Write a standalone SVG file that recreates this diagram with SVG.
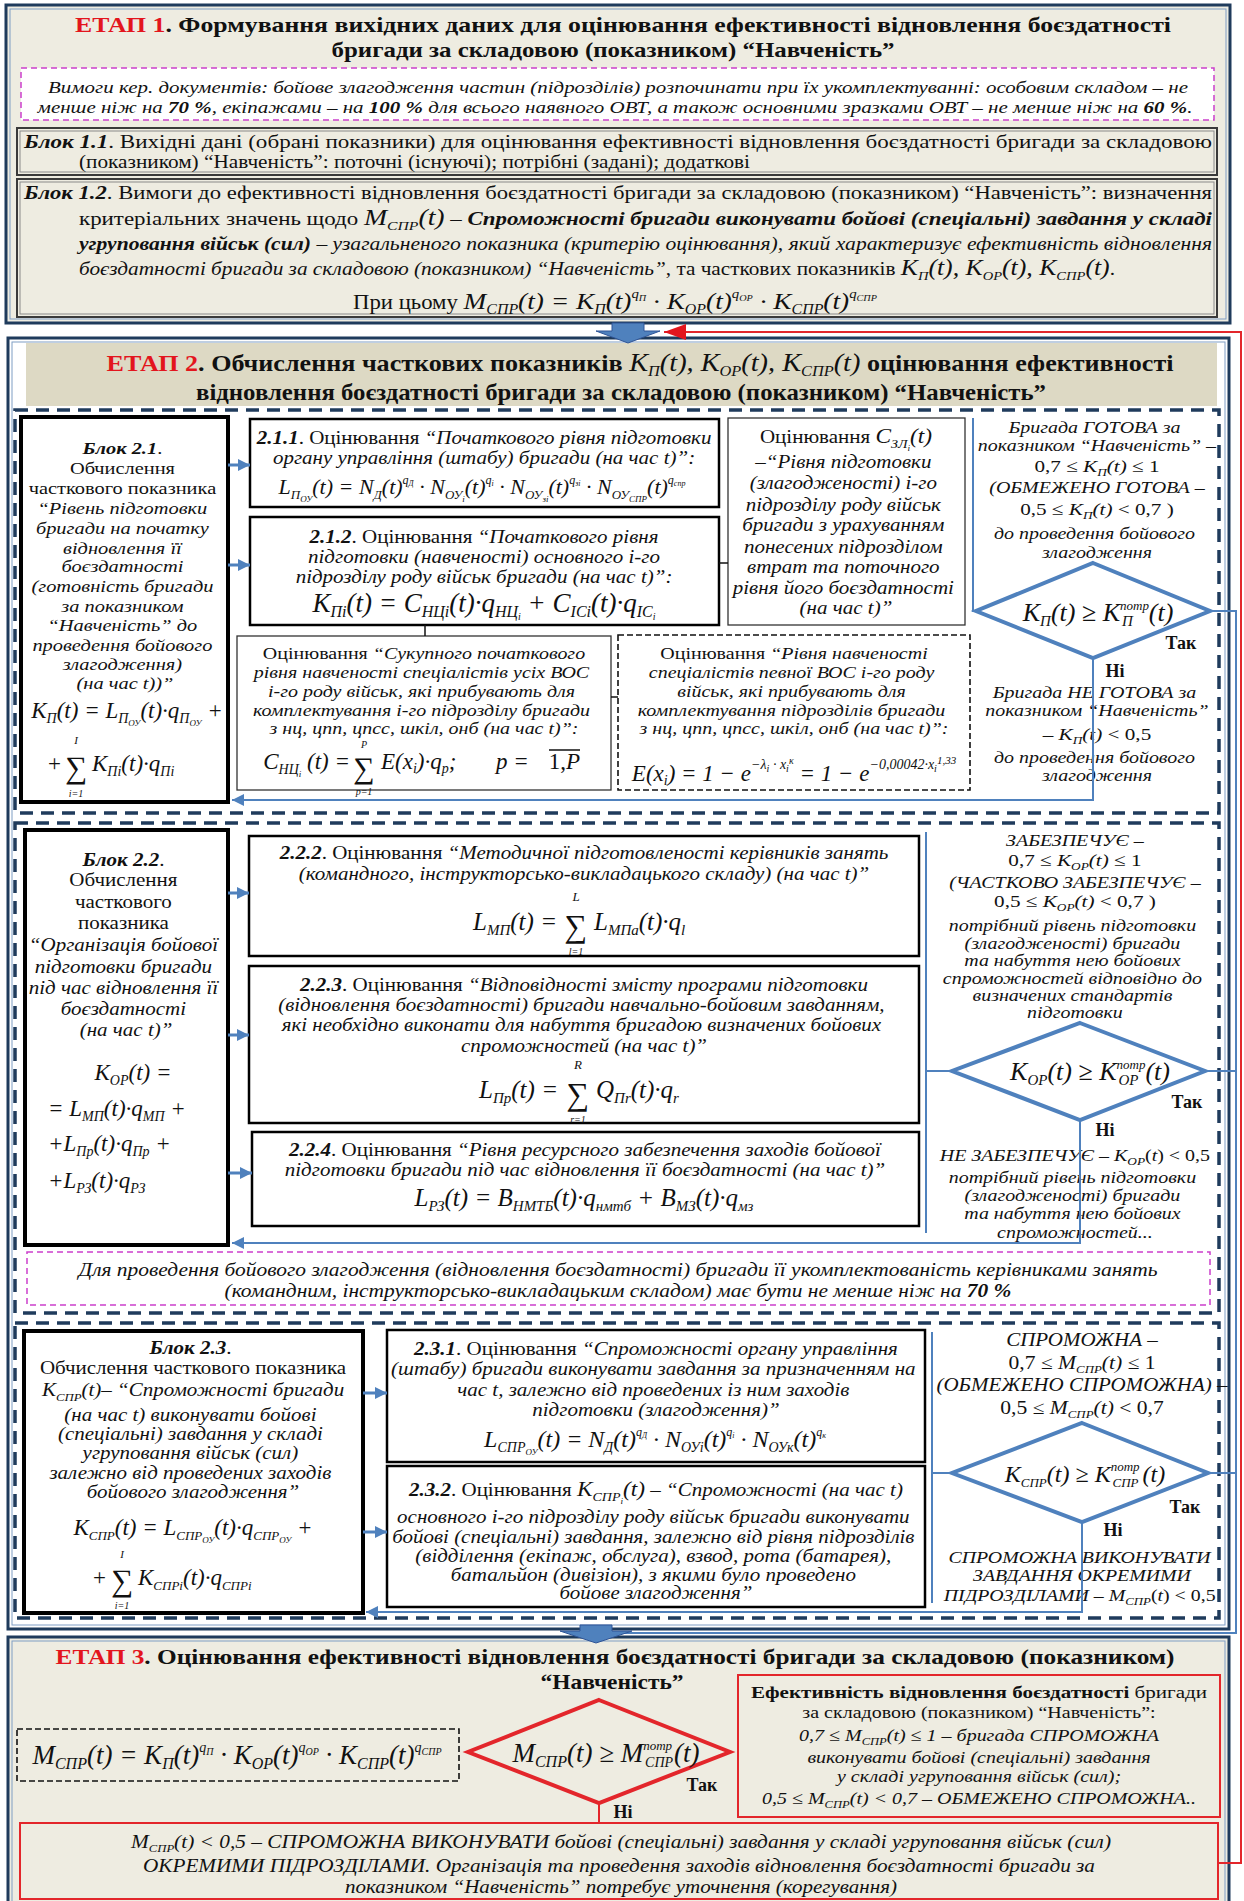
<svg xmlns="http://www.w3.org/2000/svg" width="1244" height="1901" viewBox="0 0 1244 1901">
<style>
text{font-family:"Liberation Serif","Times New Roman",serif;fill:#111}
.i{font-style:italic}
.b{font-weight:bold}
.n{font-weight:normal}
.red{fill:#E3151D}
.m{text-anchor:middle}
.e{text-anchor:end}
.frame{fill:#EEECE1;stroke:#1F3B5C;stroke-width:3}
.frame2{fill:#FFFFFF;stroke:#1F3B5C;stroke-width:3}
.inl{fill:none;stroke:#7F9DC4;stroke-width:1}
.grp{fill:none;stroke:#1F3B5C;stroke-width:3.5;stroke-dasharray:13 8}
.blk{fill:#fff;stroke:#000;stroke-width:4}
.box{fill:#fff;stroke:#000;stroke-width:2.5}
.thin{fill:#fff;stroke:#333;stroke-width:1.3}
.dsh{fill:#fff;stroke:#111;stroke-width:1.6;stroke-dasharray:6 3}
.dsh3{fill:none;stroke:#111;stroke-width:1.6;stroke-dasharray:6 3}
.mag{fill:#fff;stroke:#CC3FCC;stroke-width:1.5;stroke-dasharray:6 4}
.b1{fill:#EEECE1;stroke:#3A3A3A;stroke-width:2}
.b1in{fill:none;stroke:#8A8A8A;stroke-width:1}
.dia{fill:#fff;stroke:#4F81BD;stroke-width:4}
.rdia{fill:#EEECE1;stroke:#E3262B;stroke-width:4}
.ln{fill:none;stroke:#4F81BD;stroke-width:2}
.ar{fill:none;stroke:#4F81BD;stroke-width:3}
.bk{fill:none;stroke:#111;stroke-width:1.5}
.rl{fill:none;stroke:#E3262B;stroke-width:2}
.rbox{fill:#EEECE1;stroke:#E3262B;stroke-width:2}
.barrow{fill:#4F81BD;stroke:#2F5597;stroke-width:1}
</style>
<defs>
<marker id="ah" viewBox="0 0 10 10" refX="10" refY="5" markerWidth="12" markerHeight="12" markerUnits="userSpaceOnUse" orient="auto"><path d="M0,0 L10,5 L0,10 Z" fill="#4F81BD"/></marker>
<marker id="rh" viewBox="0 0 10 10" refX="10" refY="5" markerWidth="22" markerHeight="16" markerUnits="userSpaceOnUse" orient="auto" preserveAspectRatio="none"><path d="M0,0 L10,5 L0,10 Z" fill="#E3151D"/></marker>
</defs>

<g id="etap1">
<rect class="frame" x="6" y="5" width="1224" height="318"/>
<rect class="inl" x="10" y="9" width="1216" height="310"/>
<text class="b m" x="623" y="32" font-size="22" textLength="1096" lengthAdjust="spacingAndGlyphs"><tspan class="red">ЕТАП 1</tspan>. Формування вихідних даних для оцінювання ефективності відновлення боєздатності</text>
<text class="b m" x="613" y="57" font-size="22" textLength="563" lengthAdjust="spacingAndGlyphs">бригади за складовою (показником) “Навченість”</text>
</g>

<g id="note1">
<rect class="mag" x="21" y="68" width="1193" height="52"/>
<text class="i m" x="618" y="93" font-size="17.5" textLength="1140" lengthAdjust="spacingAndGlyphs">Вимоги кер. документів: бойове злагодження частин (підрозділів) розпочинати при їх укомплектуванні: особовим складом – не</text>
<text class="i m" x="615" y="113" font-size="17.5" textLength="1155" lengthAdjust="spacingAndGlyphs">менше ніж на <tspan class="b">70 %</tspan>, екіпажами – на <tspan class="b">100 %</tspan> для всього наявного ОВТ, а також основними зразками ОВТ – не менше ніж на <tspan class="b">60 %</tspan>.</text>
</g>

<g id="block11">
<rect class="b1" x="17" y="128" width="1200" height="47"/>
<rect class="b1in" x="20" y="131" width="1194" height="41"/>
<text x="24" y="148" font-size="18" textLength="1188" lengthAdjust="spacingAndGlyphs"><tspan class="b i">Блок 1.1</tspan>. Вихідні дані (обрані показники) для оцінювання ефективності відновлення боєздатності бригади за складовою</text>
<text x="79" y="168" font-size="18" textLength="671" lengthAdjust="spacingAndGlyphs">(показником) “Навченість”: поточні (існуючі); потрібні (задані); додаткові</text>
</g>

<g id="block12">
<rect class="b1" x="17" y="179" width="1200" height="138"/>
<rect class="b1in" x="20" y="182" width="1194" height="132"/>
<text x="24" y="199" font-size="19" textLength="1188" lengthAdjust="spacingAndGlyphs"><tspan class="b i">Блок 1.2</tspan>. Вимоги до ефективності відновлення боєздатності бригади за складовою (показником) “Навченість”: визначення</text>
<text x="79" y="225" font-size="19" textLength="1133" lengthAdjust="spacingAndGlyphs">критеріальних значень щодо <tspan class="i" font-size="23">M<tspan font-size="13" dy="5">СПР</tspan><tspan dy="-5">(t)</tspan></tspan> – <tspan class="b i">Спроможності бригади виконувати бойові (спеціальні) завдання у складі</tspan></text>
<text x="79" y="250" font-size="19" textLength="1133" lengthAdjust="spacingAndGlyphs"><tspan class="b i">угруповання військ (сил)</tspan><tspan class="i"> – узагальненого показника (критерію оцінювання), який характеризує ефективність відновлення</tspan></text>
<text x="79" y="275" font-size="19" textLength="1036" lengthAdjust="spacingAndGlyphs"><tspan class="i">боєздатності бригади за складовою (показником) “Навченість”</tspan>, та часткових показників <tspan class="i" font-size="23">K<tspan font-size="13" dy="5">П</tspan><tspan dy="-5">(t), K</tspan><tspan font-size="13" dy="5">ОР</tspan><tspan dy="-5">(t), K</tspan><tspan font-size="13" dy="5">СПР</tspan><tspan dy="-5">(t)</tspan></tspan>.</text>
<text class="m" x="615" y="309" font-size="20" textLength="524" lengthAdjust="spacingAndGlyphs">При цьому <tspan class="i" font-size="24">M<tspan font-size="14" dy="5">СПР</tspan><tspan dy="-5">(t) = K</tspan><tspan font-size="14" dy="5">П</tspan><tspan dy="-5">(t)</tspan><tspan font-size="13" dy="-11">q</tspan><tspan font-size="9" dy="3">П</tspan><tspan dy="8"> · K</tspan><tspan font-size="14" dy="5">ОР</tspan><tspan dy="-5">(t)</tspan><tspan font-size="13" dy="-11">q</tspan><tspan font-size="9" dy="3">ОР</tspan><tspan dy="8"> · K</tspan><tspan font-size="14" dy="5">СПР</tspan><tspan dy="-5">(t)</tspan><tspan font-size="13" dy="-11">q</tspan><tspan font-size="9" dy="3">СПР</tspan></tspan></text>
</g>

<g id="etap2">
<rect class="frame2" x="8" y="338" width="1221" height="1291"/>
<rect class="inl" x="12" y="342" width="1213" height="1283"/>
<rect x="26" y="343" width="1191" height="63" fill="#DDD9C4"/>
<text class="b m" x="640" y="371" font-size="24" textLength="1067" lengthAdjust="spacingAndGlyphs"><tspan class="red">ЕТАП 2</tspan>. Обчислення часткових показників <tspan class="i n" font-size="26">K<tspan font-size="15" dy="5">П</tspan><tspan dy="-5">(t), K</tspan><tspan font-size="15" dy="5">ОР</tspan><tspan dy="-5">(t), K</tspan><tspan font-size="15" dy="5">СПР</tspan><tspan dy="-5">(t)</tspan></tspan> оцінювання ефективності</text>
<text class="b m" x="621" y="400" font-size="24" textLength="850" lengthAdjust="spacingAndGlyphs">відновлення боєздатності бригади за складовою (показником) “Навченість”</text>
<rect class="grp" x="15" y="410" width="1204" height="403"/>
<rect class="grp" x="15" y="823" width="1204" height="490"/>
<rect class="grp" x="15" y="1323" width="1204" height="295"/>
</g>

<g id="block21">
<rect class="blk" x="21" y="417" width="207" height="385"/>
<g transform="matrix(1.167 0 0 1 -20.9 0)">
<text class="m" x="125" font-size="17.5">
<tspan class="b i" x="125" y="454">Блок 2.1</tspan><tspan>.</tspan>
<tspan x="125" y="474">Обчислення</tspan>
<tspan x="125" y="494">часткового показника</tspan>
<tspan class="i" x="125" y="514">“Рівень підготовки</tspan>
<tspan class="i" x="125" y="534">бригади на початку</tspan>
<tspan class="i" x="125" y="554">відновлення її</tspan>
<tspan class="i" x="125" y="572">боєздатності</tspan>
<tspan class="i" x="125" y="592">(готовність бригади</tspan>
<tspan class="i" x="125" y="612">за показником</tspan>
<tspan class="i" x="125" y="631">“Навченість” до</tspan>
<tspan class="i" x="125" y="651">проведення бойового</tspan>
<tspan class="i" x="125" y="670">злагодження)</tspan>
<tspan class="i" x="125" y="689">(на час t))”</tspan>
</text>
</g>
<text class="i m" x="127" y="718" font-size="23">K<tspan font-size="14" dy="5">П</tspan><tspan dy="-5">(t) = L</tspan><tspan font-size="14" dy="5">П</tspan><tspan font-size="9" dy="3">ОУ</tspan><tspan dy="-8">(t)·q</tspan><tspan font-size="14" dy="5">П</tspan><tspan font-size="9" dy="3">ОУ</tspan><tspan dy="-8"> +</tspan></text>
<text x="48" y="771" font-size="23">+</text>
<text class="m" x="76" y="778" font-size="31">∑</text>
<text class="i m" x="76" y="744" font-size="11">I</text>
<text class="i m" x="76" y="797" font-size="10">i=1</text>
<text class="i" x="92" y="771" font-size="23">K<tspan font-size="14" dy="5">Пi</tspan><tspan dy="-5">(t)·q</tspan><tspan font-size="14" dy="5">Пi</tspan></text>
</g>

<g id="box211">
<rect class="box" x="250" y="419" width="469" height="88"/>
<g transform="matrix(1.167 0 0 1 -80.8 0)">
<text class="m" x="484" y="444" font-size="18"><tspan class="b i">2.1.1</tspan>. Оцінювання <tspan class="i">“Початкового рівня підготовки</tspan></text>
<text class="i m" x="484" y="464" font-size="18">органу управління (штабу) бригади (на час t)”:</text>
</g>
<text class="i m" x="482" y="494" font-size="22">L<tspan font-size="13" dy="5">П</tspan><tspan font-size="9" dy="3">ОУ</tspan><tspan dy="-8">(t) = N</tspan><tspan font-size="13" dy="5">Д</tspan><tspan dy="-5">(t)</tspan><tspan font-size="12" dy="-10">q</tspan><tspan font-size="8" dy="2">Д</tspan><tspan dy="8"> · N</tspan><tspan font-size="13" dy="5">ОУ</tspan><tspan font-size="9" dy="3">і</tspan><tspan dy="-8">(t)</tspan><tspan font-size="12" dy="-10">q</tspan><tspan font-size="8" dy="2">і</tspan><tspan dy="8"> · N</tspan><tspan font-size="13" dy="5">ОУ</tspan><tspan font-size="9" dy="3">зі</tspan><tspan dy="-8">(t)</tspan><tspan font-size="12" dy="-10">q</tspan><tspan font-size="8" dy="2">зі</tspan><tspan dy="8"> · N</tspan><tspan font-size="13" dy="5">ОУ</tspan><tspan font-size="9" dy="3">СПР</tspan><tspan dy="-8">(t)</tspan><tspan font-size="12" dy="-10">q</tspan><tspan font-size="8" dy="2">спр</tspan></text>
</g>

<g id="box212">
<rect class="box" x="250" y="517" width="469" height="108"/>
<g transform="matrix(1.167 0 0 1 -80.8 0)">
<text class="m" x="484" y="543" font-size="18"><tspan class="b i">2.1.2</tspan>. Оцінювання <tspan class="i">“Початкового рівня</tspan></text>
<text class="i m" x="484" y="563" font-size="18">підготовки (навченості) основного і-го</text>
<text class="i m" x="484" y="583" font-size="18">підрозділу роду військ бригади (на час t)”:</text>
</g>
<text class="i m" x="484" y="612" font-size="27">K<tspan font-size="16" dy="5">Пi</tspan><tspan dy="-5">(t) = C</tspan><tspan font-size="16" dy="5">НЦi</tspan><tspan dy="-5">(t)·q</tspan><tspan font-size="16" dy="5">НЦ</tspan><tspan font-size="10" dy="3">i</tspan><tspan dy="-8"> + C</tspan><tspan font-size="16" dy="5">ІСi</tspan><tspan dy="-5">(t)·q</tspan><tspan font-size="16" dy="5">ІС</tspan><tspan font-size="10" dy="3">i</tspan></text>
</g>

<g id="boxczl">
<rect class="thin" x="728" y="418" width="237" height="207"/>
<g transform="matrix(1.167 0 0 1 -141.3 0)">
<text class="m" x="846" y="443" font-size="18">Оцінювання <tspan class="i" font-size="20">C<tspan font-size="12" dy="5">ЗЛ</tspan><tspan font-size="8" dy="3">і</tspan><tspan dy="-8">(t)</tspan></tspan></text>
<text class="i m" x="846" font-size="18">
<tspan x="846" y="468">–“Рівня підготовки</tspan>
<tspan x="846" y="489">(злагодженості) і-го</tspan>
<tspan x="846" y="511">підрозділу роду військ</tspan>
<tspan x="846" y="531">бригади з урахуванням</tspan>
<tspan x="846" y="553">понесених підрозділом</tspan>
<tspan x="846" y="573">втрат та поточного</tspan>
<tspan x="846" y="594">рівня його боєздатності</tspan>
<tspan x="846" y="614">(на час t)”</tspan>
</text>
</g>
</g>

<g id="boxsuk">
<rect class="thin" x="237" y="636" width="374" height="154"/>
<g transform="matrix(1.176 0 0 1 -74.6 0)">
<text class="m" x="424" y="659" font-size="17"><tspan>Оцінювання </tspan><tspan class="i">“Сукупного початкового</tspan></text>
<text class="i m" x="424" font-size="17">
<tspan x="424" y="678">рівня навченості спеціалістів усіх ВОС</tspan>
<tspan x="424" y="697">і-го роду військ, які прибувають для</tspan>
<tspan x="424" y="716">комплектування і-го підрозділу бригади</tspan>
<tspan x="424" y="734">з нц, цпп, цпсс, шкіл, онб (на час t)”:</tspan>
</text>
</g>
<text class="i e" x="350" y="769" font-size="23">C<tspan font-size="14" dy="5">НЦ</tspan><tspan font-size="9" dy="3">і</tspan><tspan dy="-8"> (t) =</tspan></text>
<text class="m" x="364" y="778" font-size="30">∑</text>
<text class="i m" x="364" y="748" font-size="10">P</text>
<text class="i m" x="364" y="795" font-size="10">p=1</text>
<text class="i" x="381" y="769" font-size="23">E(x<tspan font-size="14" dy="4">i</tspan><tspan dy="-4">)·q</tspan><tspan font-size="14" dy="4">p</tspan><tspan dy="-4">;</tspan></text>
<text class="i" x="496" y="769" font-size="23">p =</text>
<text class="e" x="580" y="769" font-size="23">1,<tspan class="i">P</tspan></text>
<path class="bk" d="M549,750 H580"/>
</g>

<g id="boxdash">
<rect class="dsh" x="618" y="635" width="352" height="155"/>
<g transform="matrix(1.176 0 0 1 -139.7 0)">
<text class="m" x="794" y="659" font-size="17"><tspan>Оцінювання </tspan><tspan class="i">“Рівня навченості</tspan></text>
<text class="i m" x="794" font-size="17">
<tspan x="794" y="678">спеціалістів певної ВОС і-го роду</tspan>
<tspan x="794" y="697">військ, які прибувають для</tspan>
<tspan x="794" y="716">комплектування підрозділів бригади</tspan>
<tspan x="794" y="734">з нц, цпп, цпсс, шкіл, онб (на час t)”:</tspan>
</text>
</g>
<text class="i m" x="794" y="781" font-size="23">E(x<tspan font-size="14" dy="4">i</tspan><tspan dy="-4">) = 1 − e</tspan><tspan font-size="14" dy="-12">−λ</tspan><tspan font-size="10" dy="3">i</tspan><tspan font-size="14" dy="-3"> · x</tspan><tspan font-size="10" dy="3">i</tspan><tspan font-size="10" dy="-8">κ</tspan><tspan dy="17"> = 1 − e</tspan><tspan font-size="14" dy="-12">−0,00042·x</tspan><tspan font-size="10" dy="3">i</tspan><tspan font-size="11" dy="-8">1,33</tspan></text>
</g>

<g id="decision21">
<g transform="matrix(1.21 0 0 1 -230.4 0)">
<text class="i m" x="1097" font-size="16.5">
<tspan x="1097" y="433">Бригада ГОТОВА за</tspan>
<tspan x="1097" y="451">показником “Навченість” –</tspan>
</text>
<text class="m" x="1097" y="472" font-size="17.5">0,7 ≤ <tspan class="i">K<tspan font-size="11" dy="4">П</tspan><tspan dy="-4">(t)</tspan></tspan> ≤ 1</text>
<text class="i m" x="1097" y="493" font-size="16.5">(ОБМЕЖЕНО ГОТОВА –</text>
<text class="m" x="1097" y="515" font-size="17.5">0,5 ≤ <tspan class="i">K<tspan font-size="11" dy="4">П</tspan><tspan dy="-4">(t)</tspan></tspan> &lt; 0,7 )</text>
<text class="i m" x="1097" font-size="16.5">
<tspan x="1097" y="539">до проведення бойового</tspan>
<tspan x="1097" y="558">злагодження</tspan>
</text>
<text class="i m" x="1097" font-size="16.5">
<tspan x="1097" y="698">Бригада НЕ ГОТОВА за</tspan>
<tspan x="1097" y="716">показником “Навченість”</tspan>
</text>
<text class="m" x="1097" y="740" font-size="17.5">– <tspan class="i">K<tspan font-size="11" dy="4">П</tspan><tspan dy="-4">(t)</tspan></tspan> &lt; 0,5</text>
<text class="i m" x="1097" font-size="16.5">
<tspan x="1097" y="763">до проведення бойового</tspan>
<tspan x="1097" y="781">злагодження</tspan>
</text>
</g>
<polygon class="dia" points="1093,563 1210,611 1093,658 976,611"/>
<text class="i m" x="1098" y="621" font-size="26">K<tspan font-size="15" dy="5">П</tspan><tspan dy="-5">(t) ≥ K</tspan><tspan font-size="13" dy="-11">потр</tspan><tspan font-size="15" dx="-27" dy="16">П</tspan><tspan dx="16" dy="-5">(t)</tspan></text>
<text class="b m" x="1181" y="649" font-size="18">Так</text>
<text class="b m" x="1115" y="677" font-size="18">Ні</text>
</g>

<g id="block22">
<rect class="blk" x="25" y="830" width="203" height="415"/>
<g transform="matrix(1.167 0 0 1 -21.0 0)">
<text class="m" x="126" font-size="18">
<tspan class="b i" x="126" y="866">Блок 2.2</tspan><tspan>.</tspan>
<tspan x="126" y="886">Обчислення</tspan>
<tspan x="126" y="908">часткового</tspan>
<tspan x="126" y="929">показника</tspan>
<tspan class="i" x="126" y="951">“Організація бойової</tspan>
<tspan class="i" x="126" y="973">підготовки бригади</tspan>
<tspan class="i" x="126" y="994">під час відновлення її</tspan>
<tspan class="i" x="126" y="1015">боєздатності</tspan>
<tspan class="i" x="126" y="1036">(на час t)”</tspan>
</text>
</g>
<text class="i m" x="133" y="1080" font-size="23">K<tspan font-size="14" dy="5">ОР</tspan><tspan dy="-5">(t) =</tspan></text>
<text class="i" x="48" y="1116" font-size="23">= L<tspan font-size="14" dy="5">МП</tspan><tspan dy="-5">(t)·q</tspan><tspan font-size="14" dy="5">МП</tspan><tspan dy="-5"> +</tspan></text>
<text class="i" x="48" y="1151" font-size="23">+L<tspan font-size="14" dy="5">Пр</tspan><tspan dy="-5">(t)·q</tspan><tspan font-size="14" dy="5">Пр</tspan><tspan dy="-5"> +</tspan></text>
<text class="i" x="48" y="1188" font-size="23">+L<tspan font-size="14" dy="5">РЗ</tspan><tspan dy="-5">(t)·q</tspan><tspan font-size="14" dy="5">РЗ</tspan></text>
</g>

<g id="box222">
<rect class="box" x="249" y="836" width="670" height="120"/>
<g transform="matrix(1.167 0 0 1 -97.5 0)">
<text class="m" x="584" y="859" font-size="18"><tspan class="b i">2.2.2</tspan>. Оцінювання <tspan class="i">“Методичної підготовленості керівників занять</tspan></text>
<text class="i m" x="584" y="880" font-size="18">(командного, інструкторсько-викладацького складу) (на час t)”</text>
</g>
<text class="i e" x="557" y="930" font-size="25">L<tspan font-size="15" dy="5">МП</tspan><tspan dy="-5">(t) =</tspan></text>
<text class="m" x="576" y="937" font-size="32">∑</text>
<text class="i m" x="576" y="901" font-size="13">L</text>
<text class="i m" x="576" y="955" font-size="10">l=1</text>
<text class="i" x="594" y="930" font-size="25">L<tspan font-size="15" dy="5">МПа</tspan><tspan dy="-5">(t)·q</tspan><tspan font-size="15" dy="5">l</tspan></text>
</g>

<g id="box223">
<rect class="box" x="249" y="966" width="670" height="157"/>
<g transform="matrix(1.167 0 0 1 -97.5 0)">
<text class="m" x="584" y="991" font-size="18"><tspan class="b i">2.2.3</tspan>. Оцінювання <tspan class="i">“Відповідності змісту програми підготовки</tspan></text>
<text class="i m" x="584" font-size="18">
<tspan x="584" y="1011">(відновлення боєздатності) бригади навчально-бойовим завданням,</tspan>
<tspan x="584" y="1031">які необхідно виконати для набуття бригадою визначених бойових</tspan>
<tspan x="584" y="1052">спроможностей (на час t)”</tspan>
</text>
</g>
<text class="i e" x="558" y="1098" font-size="25">L<tspan font-size="15" dy="5">Пр</tspan><tspan dy="-5">(t) =</tspan></text>
<text class="m" x="578" y="1105" font-size="32">∑</text>
<text class="i m" x="578" y="1069" font-size="13">R</text>
<text class="i m" x="578" y="1123" font-size="10">r=1</text>
<text class="i" x="596" y="1098" font-size="25">Q<tspan font-size="15" dy="5">Пr</tspan><tspan dy="-5">(t)·q</tspan><tspan font-size="15" dy="5">r</tspan></text>
</g>

<g id="box224">
<rect class="box" x="252" y="1132" width="667" height="94"/>
<g transform="matrix(1.167 0 0 1 -97.7 0)">
<text class="m" x="585" y="1156" font-size="18"><tspan class="b i">2.2.4</tspan>. Оцінювання <tspan class="i">“Рівня ресурсного забезпечення заходів бойової</tspan></text>
<text class="i m" x="585" y="1176" font-size="18">підготовки бригади під час відновлення її боєздатності (на час t)”</text>
</g>
<text class="i m" x="584" y="1206" font-size="25">L<tspan font-size="15" dy="5">РЗ</tspan><tspan dy="-5">(t) = B</tspan><tspan font-size="15" dy="5">НМТБ</tspan><tspan dy="-5">(t)·q</tspan><tspan font-size="15" dy="5">нмтб</tspan><tspan dy="-5"> + B</tspan><tspan font-size="15" dy="5">МЗ</tspan><tspan dy="-5">(t)·q</tspan><tspan font-size="15" dy="5">мз</tspan></text>
</g>

<g id="note2">
<rect class="mag" x="27" y="1252" width="1183" height="53"/>
<text class="i m" x="618" y="1276" font-size="18" textLength="1079" lengthAdjust="spacingAndGlyphs">Для проведення бойового злагодження (відновлення боєздатності) бригади її укомплектованість керівниками занять</text>
<text class="i m" x="618" y="1297" font-size="18" textLength="787" lengthAdjust="spacingAndGlyphs">(командним, інструкторсько-викладацьким складом) має бути не менше ніж на <tspan class="b">70 %</tspan></text>
</g>

<g id="decision22">
<g transform="matrix(1.21 0 0 1 -225.8 0)">
<text class="i m" x="1075" y="846" font-size="16.5">ЗАБЕЗПЕЧУЄ –</text>
<text class="m" x="1075" y="866" font-size="17.5">0,7 ≤ <tspan class="i">K<tspan font-size="11" dy="4">ОР</tspan><tspan dy="-4">(t)</tspan></tspan> ≤ 1</text>
<text class="i m" x="1075" y="888" font-size="16.5">(ЧАСТКОВО ЗАБЕЗПЕЧУЄ –</text>
<text class="m" x="1075" y="907" font-size="17.5">0,5 ≤ <tspan class="i">K<tspan font-size="11" dy="4">ОР</tspan><tspan dy="-4">(t)</tspan></tspan> &lt; 0,7 )</text>
<text class="i m" x="1075" font-size="16.5">
<tspan x="1075" y="931">потрібний рівень підготовки</tspan>
<tspan x="1075" y="949">(злагодженості) бригади</tspan>
<tspan x="1075" y="966">та набуття нею бойових</tspan>
<tspan x="1075" y="984">спроможностей відповідно до</tspan>
<tspan x="1075" y="1001">визначених стандартів</tspan>
<tspan x="1075" y="1018">підготовки</tspan>
</text>
<text class="m" x="1075" y="1161" font-size="16.5"><tspan class="i">НЕ ЗАБЕЗПЕЧУЄ – K</tspan><tspan class="i" font-size="11" dy="4">ОР</tspan><tspan dy="-4">(<tspan class="i">t</tspan>) &lt; 0,5</tspan></text>
<text class="i m" x="1075" font-size="16.5">
<tspan x="1075" y="1183">потрібний рівень підготовки</tspan>
<tspan x="1075" y="1201">(злагодженості) бригади</tspan>
<tspan x="1075" y="1219">та набуття нею бойових</tspan>
<tspan x="1075" y="1238">спроможностей...</tspan>
</text>
</g>
<polygon class="dia" points="1080,1023 1205,1071 1080,1120 952,1071"/>
<text class="i m" x="1090" y="1080" font-size="26">K<tspan font-size="15" dy="5">ОР</tspan><tspan dy="-5">(t) ≥ K</tspan><tspan font-size="13" dy="-11">потр</tspan><tspan font-size="15" dx="-27" dy="16">ОР</tspan><tspan dx="7" dy="-5">(t)</tspan></text>
<text class="b m" x="1187" y="1108" font-size="18">Так</text>
<text class="b m" x="1105" y="1136" font-size="18">Ні</text>
</g>

<g id="block23">
<rect class="blk" x="24" y="1331" width="339" height="282"/>
<g transform="matrix(1.167 0 0 1 -32.2 0)">
<text class="m" x="193" font-size="18">
<tspan class="b i" x="193" y="1354">Блок 2.3</tspan><tspan>.</tspan>
<tspan x="193" y="1374">Обчислення часткового показника</tspan>
</text>
<text class="m" x="193" y="1396" font-size="18"><tspan class="i">K<tspan font-size="11" dy="5">СПР</tspan><tspan dy="-5">(t)</tspan></tspan>– <tspan class="i">“Спроможності бригади</tspan></text>
<text class="i m" x="193" font-size="18">
<tspan x="193" y="1421">(на час t) виконувати бойові</tspan>
<tspan x="193" y="1440">(спеціальні) завдання у складі</tspan>
<tspan x="193" y="1459">угруповання військ (сил)</tspan>
<tspan x="193" y="1479">залежно від проведених заходів</tspan>
<tspan x="193" y="1498">бойового злагодження”</tspan>
</text>
</g>
<text class="i m" x="193" y="1535" font-size="23">K<tspan font-size="13" dy="5">СПР</tspan><tspan dy="-5">(t) = L</tspan><tspan font-size="13" dy="5">СПР</tspan><tspan font-size="9" dy="3">ОУ</tspan><tspan dy="-8">(t)·q</tspan><tspan font-size="13" dy="5">СПР</tspan><tspan font-size="9" dy="3">ОУ</tspan><tspan dy="-8"> +</tspan></text>
<text x="93" y="1585" font-size="23">+</text>
<text class="m" x="122" y="1591" font-size="31">∑</text>
<text class="i m" x="122" y="1558" font-size="11">I</text>
<text class="i m" x="122" y="1609" font-size="10">i=1</text>
<text class="i" x="138" y="1585" font-size="23">K<tspan font-size="13" dy="5">СПРi</tspan><tspan dy="-5">(t)·q</tspan><tspan font-size="13" dy="5">СПРi</tspan></text>
</g>

<g id="box231">
<rect class="box" x="387" y="1330" width="538" height="132"/>
<g transform="matrix(1.167 0 0 1 -109.6 0)">
<text class="m" x="656" y="1355" font-size="18"><tspan class="b i">2.3.1</tspan>. Оцінювання  <tspan class="i">“Спроможності органу управління</tspan></text>
<text class="i m" x="656" font-size="18">
<tspan x="656" y="1375">(штабу) бригади виконувати завдання за призначенням на</tspan>
<tspan x="656" y="1396">час t, залежно від проведених із ним заходів</tspan>
<tspan x="656" y="1416">підготовки (злагодження)”</tspan>
</text>
</g>
<text class="i m" x="655" y="1447" font-size="24">L<tspan font-size="14" dy="5">СПР</tspan><tspan font-size="9" dy="3">ОУ</tspan><tspan dy="-8">(t) = N</tspan><tspan font-size="14" dy="5">Д</tspan><tspan dy="-5">(t)</tspan><tspan font-size="12" dy="-11">q</tspan><tspan font-size="8" dy="2">Д</tspan><tspan dy="9"> · N</tspan><tspan font-size="14" dy="5">ОУі</tspan><tspan dy="-5">(t)</tspan><tspan font-size="12" dy="-11">q</tspan><tspan font-size="8" dy="2">і</tspan><tspan dy="9"> · N</tspan><tspan font-size="14" dy="5">ОУк</tspan><tspan dy="-5">(t)</tspan><tspan font-size="12" dy="-11">q</tspan><tspan font-size="8" dy="2">к</tspan></text>
</g>

<g id="box232">
<rect class="box" x="387" y="1466" width="538" height="141"/>
<g transform="matrix(1.167 0 0 1 -109.6 0)">
<text class="m" x="656" y="1496" font-size="18"><tspan class="b i">2.3.2</tspan>. Оцінювання <tspan class="i" font-size="20">K<tspan font-size="12" dy="5">СПР</tspan><tspan font-size="8" dy="3">і</tspan><tspan dy="-8">(t)</tspan></tspan> – <tspan class="i">“Спроможності (на час t)</tspan></text>
<text class="i m" x="656" font-size="18">
<tspan x="656" y="1523">основного і-го підрозділу роду військ бригади виконувати</tspan>
<tspan x="656" y="1543">бойові (спеціальні) завдання, залежно від рівня підрозділів</tspan>
<tspan x="656" y="1562">(відділення (екіпаж, обслуга), взвод, рота (батарея),</tspan>
<tspan x="656" y="1581">батальйон (дивізіон), з якими було проведено</tspan>
<tspan x="656" y="1599">бойове злагодження”</tspan>
</text>
</g>
</g>

<g id="decision23">
<g transform="matrix(1.167 0 0 1 -180.7 0)">
<text class="i m" x="1082" y="1346" font-size="18">СПРОМОЖНА –</text>
<text class="m" x="1082" y="1369" font-size="18.5">0,7 ≤ <tspan class="i">M<tspan font-size="11" dy="4">СПР</tspan><tspan dy="-4">(t)</tspan></tspan> ≤ 1</text>
<text class="i m" x="1082" y="1391" font-size="18">(ОБМЕЖЕНО СПРОМОЖНА) –</text>
<text class="m" x="1082" y="1414" font-size="18.5">0,5 ≤ <tspan class="i">M<tspan font-size="11" dy="4">СПР</tspan><tspan dy="-4">(t)</tspan></tspan> &lt; 0,7</text>
<text class="i m" x="1082" font-size="17">
<tspan x="1082" y="1563">СПРОМОЖНА ВИКОНУВАТИ</tspan>
<tspan x="1082" y="1581">ЗАВДАННЯ ОКРЕМИМИ</tspan>
</text>
<text class="m" x="1080" y="1601" font-size="17"><tspan class="i">ПІДРОЗДІЛАМИ – M</tspan><tspan class="i" font-size="11" dy="4">СПР</tspan><tspan dy="-4">(<tspan class="i">t</tspan>) &lt; 0,5</tspan></text>
</g>
<polygon class="dia" points="1082,1423 1208,1473 1082,1522 952,1473"/>
<text class="i m" x="1085" y="1482" font-size="24">K<tspan font-size="13" dy="5">СПР</tspan><tspan dy="-5">(t) ≥ K</tspan><tspan font-size="13" dy="-11">потр</tspan><tspan font-size="13" dx="-27" dy="16">СПР</tspan><tspan dx="4" dy="-5">(t)</tspan></text>
<text class="b m" x="1185" y="1513" font-size="18">Так</text>
<text class="b m" x="1113" y="1536" font-size="18">Ні</text>
</g>

<g id="etap3">
<rect class="frame" x="8" y="1637" width="1221" height="280"/>
<rect class="inl" x="12" y="1641" width="1213" height="272"/>
<text class="b m" x="615" y="1664" font-size="22" textLength="1119" lengthAdjust="spacingAndGlyphs"><tspan class="red">ЕТАП 3</tspan>. Оцінювання ефективності відновлення боєздатності бригади за складовою (показником)</text>
<text class="b m" x="612" y="1689" font-size="22" textLength="143" lengthAdjust="spacingAndGlyphs">“Навченість”</text>
</g>

<g id="formula3">
<rect class="dsh3" x="17" y="1729" width="442" height="52"/>
<text class="i m" x="237" y="1764" font-size="27">M<tspan font-size="16" dy="5">СПР</tspan><tspan dy="-5">(t) = K</tspan><tspan font-size="16" dy="5">П</tspan><tspan dy="-5">(t)</tspan><tspan font-size="14" dy="-12">q</tspan><tspan font-size="10" dy="3">П</tspan><tspan dy="9"> · K</tspan><tspan font-size="16" dy="5">ОР</tspan><tspan dy="-5">(t)</tspan><tspan font-size="14" dy="-12">q</tspan><tspan font-size="10" dy="3">ОР</tspan><tspan dy="9"> · K</tspan><tspan font-size="16" dy="5">СПР</tspan><tspan dy="-5">(t)</tspan><tspan font-size="14" dy="-12">q</tspan><tspan font-size="10" dy="3">СПР</tspan></text>
</g>

<g id="decision3">
<polygon class="rdia" points="599,1700 730,1752 599,1803 468,1752"/>
<text class="i m" x="606" y="1762" font-size="27">M<tspan font-size="16" dy="5">СПР</tspan><tspan dy="-5">(t) ≥ M</tspan><tspan font-size="13" dy="-12">потр</tspan><tspan font-size="14" dx="-27" dy="17">СПР</tspan><tspan dx="1" dy="-5">(t)</tspan></text>
<text class="b m" x="702" y="1791" font-size="18">Так</text>
<text class="b m" x="623" y="1818" font-size="18">Ні</text>
</g>

<g id="result1">
<rect class="rbox" x="738" y="1675" width="482" height="142"/>
<g transform="matrix(1.143 0 0 1 -140.0 0)">
<text class="m" x="979" y="1698" font-size="17.5" textLength="399" lengthAdjust="spacingAndGlyphs"><tspan class="b">Ефективність відновлення боєздатності</tspan> бригади</text>
<text class="m" x="979" y="1718" font-size="17.5">за складовою (показником) “Навченість”:</text>
<text class="i m" x="979" y="1741" font-size="17.5">0,7 ≤ M<tspan font-size="11" dy="4">СПР</tspan><tspan dy="-4">(t) ≤ 1 – бригада СПРОМОЖНА</tspan></text>
<text class="i m" x="979" y="1763" font-size="17.5">виконувати бойові (спеціальні) завдання</text>
<text class="i m" x="979" y="1782" font-size="17.5">у складі угруповання військ (сил);</text>
<text class="i m" x="979" y="1804" font-size="17.5">0,5 ≤ M<tspan font-size="11" dy="4">СПР</tspan><tspan dy="-4">(t) &lt; 0,7 – ОБМЕЖЕНО СПРОМОЖНА..</tspan></text>
</g>
</g>

<g id="result2">
<rect class="rbox" x="20" y="1823" width="1198" height="76"/>
<text class="i m" x="621" y="1848" font-size="18.5" textLength="980" lengthAdjust="spacingAndGlyphs">M<tspan font-size="11" dy="4">СПР</tspan><tspan dy="-4">(t) &lt; 0,5 – СПРОМОЖНА ВИКОНУВАТИ бойові (спеціальні) завдання у складі угруповання військ (сил)</tspan></text>
<text class="i m" x="619" y="1872" font-size="18.5" textLength="952" lengthAdjust="spacingAndGlyphs">ОКРЕМИМИ ПІДРОЗДІЛАМИ. Організація та проведення заходів відновлення боєздатності бригади за</text>
<text class="i m" x="621" y="1893" font-size="18.5" textLength="552" lengthAdjust="spacingAndGlyphs">показником “Навченість” потребує уточнення (корегування)</text>
</g>

<g id="connectors">
<path class="bk" d="M425,625 V636"/>
<path class="bk" d="M611,697 H618"/>
<path class="bk" d="M719,563 H728"/>
<path class="ar" d="M228,465 H250" marker-end="url(#ah)"/>
<path class="ar" d="M228,565 H250" marker-end="url(#ah)"/>
<path class="ar" d="M228,893 H249" marker-end="url(#ah)"/>
<path class="ar" d="M228,1035 H249" marker-end="url(#ah)"/>
<path class="ar" d="M228,1173 H252" marker-end="url(#ah)"/>
<path class="ar" d="M363,1393 H387" marker-end="url(#ah)"/>
<path class="ar" d="M363,1532 H387" marker-end="url(#ah)"/>
<path class="ln" d="M973,418 V611 H976"/>
<path class="ln" d="M926,832 V1233 M926,1071 H952"/>
<path class="ln" d="M932,1332 V1603 M932,1473 H952"/>
<path class="ln" d="M1093,658 V800 H232" marker-end="url(#ah)"/>
<path class="ln" d="M1080,1120 V1243 H232" marker-end="url(#ah)"/>
<path class="ln" d="M1082,1522 V1612 H366" marker-end="url(#ah)"/>
<path class="ln" d="M1210,611 H1236 V1633 H620 M1205,1071 H1236 M1208,1473 H1236"/>
<path class="barrow" d="M612,323 H644 V331 H660 L628,343 L596,331 H612 Z"/>
<path class="barrow" d="M580,1625 H612 V1631 H632 L596,1643 L560,1631 H580 Z"/>
<path class="rl" d="M599,1803 V1823"/>
<path class="rl" d="M1218,1863 H1241 V332 H664" marker-end="url(#rh)"/>
</g>
</svg>
